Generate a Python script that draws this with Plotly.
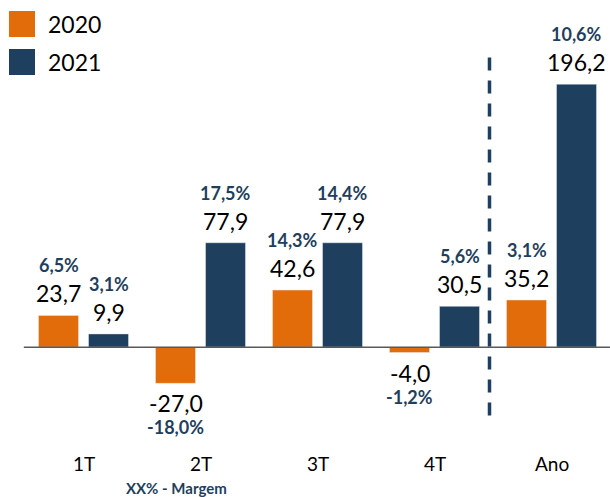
import plotly.graph_objects as go

# --- data -------------------------------------------------------------
quarters = ["1T", "2T", "3T", "4T", "Ano"]
values_2020 = [23.7, -27.0, 42.6, -4.0, 35.2]
values_2021 = [9.9, 77.9, 77.9, 30.5, 196.2]
margin_2020 = [6.5, -18.0, 14.3, -1.2, 3.1]
margin_2021 = [3.1, 17.5, 14.4, 5.6, 10.6]
series_names = ["2020", "2021"]
note_text = "XX% - Margem"

ORANGE = "#E36C0A"
NAVY = "#1F3F5E"
FONT = "Lato"


def br(v, pct=False):
    s = f"{v:.1f}".replace(".", ",")
    return s + "%" if pct else s


fig = go.Figure()
for name, vals, color in [(series_names[0], values_2020, ORANGE),
                          (series_names[1], values_2021, NAVY)]:
    fig.add_trace(go.Bar(
        x=quarters, y=vals, name=name,
        marker_color=color, showlegend=False,
    ))

# value + margin labels above / below each bar
annotations = []
for vals, margins, shift in [(values_2020, margin_2020, -25),
                             (values_2021, margin_2021, 25)]:
    for q, v, m in zip(quarters, vals, margins):
        sign = 1 if v >= 0 else -1
        annotations.append(dict(
            x=q, y=v, xref="x", yref="y", xshift=shift,
            yshift=22 if sign > 0 else -20, text=br(v), showarrow=False,
            font=dict(family=FONT, size=23, color="black"),
            xanchor="center", yanchor="middle",
        ))
        annotations.append(dict(
            x=q, y=v, xref="x", yref="y", xshift=shift,
            yshift=50 if sign > 0 else -44, text=f"<b>{br(m, True)}</b>",
            showarrow=False,
            font=dict(family=FONT, size=18, color=NAVY),
            xanchor="center", yanchor="middle",
        ))

# category labels under each group
for q in quarters:
    annotations.append(dict(
        x=q, y=(441 - 463) / 429, xref="x", yref="paper",
        text=q, showarrow=False, xanchor="center", yanchor="middle",
        font=dict(family=FONT, size=19, color="black"),
    ))
annotations.append(dict(
    x=(176 - 25) / 585, y=(441 - 488) / 429, xref="paper", yref="paper",
    text=f"<b>{note_text}</b>", showarrow=False,
    xanchor="center", yanchor="middle",
    font=dict(family=FONT, size=15, color=NAVY),
))

# manual legend (big squares)
shapes = []
for i, (name, color) in enumerate(zip(series_names, [ORANGE, NAVY])):
    top = 11 + i * 38
    shapes.append(dict(
        type="rect", xref="paper", yref="paper",
        x0=(9 - 25) / 585, x1=(35 - 25) / 585,
        y0=(441 - top - 26) / 429, y1=(441 - top) / 429,
        fillcolor=color, line=dict(width=0),
    ))
    annotations.append(dict(
        x=(46 - 25) / 585, y=(441 - top - 13) / 429, xref="paper", yref="paper",
        text=name, showarrow=False, xanchor="left", yanchor="middle",
        font=dict(family=FONT, size=23, color="black"),
    ))

# zero line over the bars
shapes.append(dict(
    type="line", xref="paper", yref="y", x0=-0.002, x1=1, y0=0, y1=0,
    line=dict(color="#595959", width=1.5), layer="above",
))
# dashed separator before the annual total (drawn top -> bottom)
shapes.append(dict(
    type="line", xref="x", yref="y", x0=3.47, x1=3.47, y0=216, y1=-52,
    line=dict(color=NAVY, width=3.5, dash="13px,10px"),
))

fig.update_layout(
    width=610, height=497,
    margin=dict(l=25, r=0, t=12, b=56),
    paper_bgcolor="white", plot_bgcolor="white",
    barmode="group", bargap=0.145, bargroupgap=0.2,
    xaxis=dict(type="category", range=[-0.5, 4.5], showticklabels=False,
               showgrid=False, zeroline=False, showline=False, ticks=""),
    yaxis=dict(range=[-70, 250], visible=False, showgrid=False, zeroline=False),
    annotations=annotations, shapes=shapes,
    font=dict(family=FONT),
)

fig.write_html(
    "out.html",
    config={"displayModeBar": False},
    post_script="document.body.style.margin='0px';document.body.style.overflow='hidden';",
)
